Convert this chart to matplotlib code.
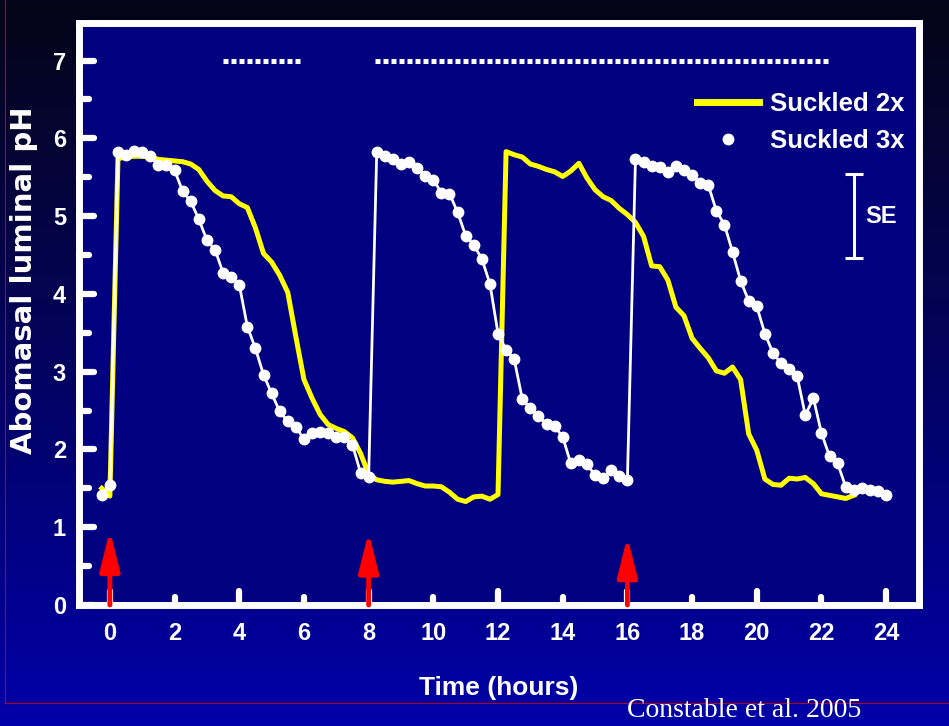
import matplotlib
matplotlib.use("Agg")
import matplotlib.pyplot as plt
from matplotlib.lines import Line2D
from matplotlib.markers import MarkerStyle
import numpy as np

plt.rcParams['font.family'] = ['Liberation Sans', 'DejaVu Sans']
plt.rcParams['font.weight'] = 'bold'

# abomasal pH, one reading every 15 min, first reading at -0.25 h
ph_2x = [1.50, 1.40,
         5.74, 5.76, 5.77, 5.77, 5.76, 5.73, 5.72, 5.71, 5.70, 5.67, 5.60, 5.45,
         5.33, 5.26, 5.25, 5.16, 5.11, 4.85, 4.52, 4.41, 4.24, 4.02, 3.45, 2.90,
         2.66, 2.45, 2.32, 2.27, 2.23, 2.15, 1.95, 1.68,
         1.61, 1.59, 1.58, 1.59, 1.60, 1.56, 1.53, 1.53, 1.52, 1.45, 1.36, 1.33,
         1.39, 1.40, 1.36, 1.42,
         5.83, 5.79, 5.76, 5.67, 5.64, 5.60, 5.57, 5.51, 5.58, 5.68, 5.49, 5.34,
         5.25, 5.20, 5.10, 5.02, 4.92, 4.74, 4.36, 4.35,
         4.18, 3.83, 3.72, 3.43, 3.30, 3.18, 3.01, 2.98, 3.06, 2.90, 2.20, 1.99,
         1.62, 1.55, 1.54, 1.63, 1.62, 1.64, 1.56, 1.43, 1.41, 1.39, 1.37, 1.41]

ph_3x = [1.42, 1.54,
         5.82, 5.79, 5.84, 5.82, 5.77, 5.66, 5.66, 5.59, 5.32, 5.19, 4.96, 4.69,
         4.57, 4.27, 4.22, 4.12, 3.58, 3.30, 2.96, 2.72, 2.49, 2.36, 2.29, 2.13,
         2.21, 2.23, 2.21, 2.16, 2.16, 2.06, 1.70, 1.64,
         5.82, 5.77, 5.73, 5.67, 5.70, 5.62, 5.52, 5.47, 5.30, 5.29, 5.05, 4.75,
         4.63, 4.45, 4.13, 3.49, 3.28, 3.16, 2.65, 2.53, 2.43, 2.33, 2.30, 2.16,
         1.82, 1.87, 1.81, 1.67, 1.63, 1.74, 1.66, 1.61,
         5.74, 5.70, 5.64, 5.63, 5.57, 5.65, 5.59, 5.53, 5.43, 5.40, 5.07, 4.89,
         4.54, 4.17, 3.91, 3.84, 3.49, 3.24, 3.11, 3.03, 2.94, 2.44, 2.66, 2.21,
         1.91, 1.82, 1.52, 1.48, 1.50, 1.48, 1.46, 1.41]

t_first, t_step = -0.25, 0.25
hours_2x = t_first + t_step * np.arange(len(ph_2x))
hours_3x = t_first + t_step * np.arange(len(ph_3x))

feed_hours = [0, 8, 16]
arrow_tops = [0.96, 0.94, 0.88]
sig_periods = [(3.49, 5.88), (8.2, 22.24)]
sig_level = 7
se_x, se_mid, se_half = 23.0, 5.0, 0.54

x_ticks = list(range(0, 25, 2))
y_ticks = list(range(0, 8))

fig = plt.figure(figsize=(9.49, 7.26), dpi=100)

# slide background: dark navy at the top fading to blue
bg = fig.add_axes([0, 0, 1, 1], zorder=-10)
top_c = np.array([0.02, 0.02, 0.09])
bot_c = np.array([0.0, 0.0, 0.66])
frac = np.linspace(0, 1, 256)[:, None, None]
bg.imshow(top_c + (bot_c - top_c) * frac, aspect='auto', extent=[0, 1, 0, 1])
bg.axis('off')

red = '#b00020'
fig.add_artist(Line2D([4.5 / 949] * 2, [1, 1 - 703 / 726], transform=fig.transFigure,
                      color=red, lw=0.8))
fig.add_artist(Line2D([4.5 / 949, 1], [1 - 703 / 726] * 2, transform=fig.transFigure,
                      color=red, lw=0.8))

ax = fig.add_axes([78.5 / 949, 1 - 605 / 726, 840 / 949, 582.5 / 726])
ax.set_facecolor('#000080')
ax.set_xlim(-0.97, 25.0)
ax.set_ylim(0, 7.49)
for s in ax.spines.values():
    s.set_color('white')
    s.set_linewidth(5)
    s.set_capstyle('projecting')

ax.plot(hours_2x, ph_2x, color='#ffff00', lw=3.6, solid_joinstyle='round', zorder=3)
ax.plot(hours_3x, ph_3x, color='white', lw=2, marker='o', ms=7.5, zorder=4)

for a, b in sig_periods:
    ax.plot([a, b], [sig_level, sig_level], color='white', lw=3.6,
            ls=(0, (1, 0.6)), dash_capstyle='butt')

for x, top in zip(feed_hours, arrow_tops):
    ax.annotate('', xy=(x, top), xytext=(x, 0), annotation_clip=False,
                arrowprops=dict(arrowstyle='-|>,head_length=1.2,head_width=0.3',
                                color='red', lw=3.5, shrinkA=0, shrinkB=0,
                                mutation_scale=20), zorder=6)

ax.errorbar([se_x], [se_mid], yerr=[se_half], color='white', lw=2.2,
            capsize=6.5, capthick=2.2)
ax.text(se_x + 0.36, se_mid, 'SE', color='white', size=17, va='center', ha='left')

major_x = [h for h in x_ticks if h % 4 == 0]
minor_x = [h for h in x_ticks if h % 4 == 2]
ax.set_xticks(major_x, [str(h) for h in major_x])
ax.set_xticks(minor_x, [str(h) for h in minor_x], minor=True)
ax.set_yticks(y_ticks, [str(v) for v in y_ticks])
ax.set_yticks([v + 0.5 for v in y_ticks[:-1]], minor=True)

ax.tick_params(which='both', direction='in', color='white', labelcolor='white',
               labelsize=17, width=4.5)
ax.tick_params(axis='y', which='major', length=11, pad=9)
ax.tick_params(axis='y', which='minor', length=7)
ax.tick_params(axis='x', which='major', length=10, pad=12)
ax.tick_params(axis='x', which='minor', length=6, pad=12)

# rounded tick ends, like the original slide
for axis in (ax.xaxis, ax.yaxis):
    for t in axis.get_major_ticks() + axis.get_minor_ticks():
        ln = t.tick1line
        ln.set_marker(MarkerStyle(ln.get_marker(), capstyle='round'))

h1 = Line2D([], [], color='#ffff00', lw=5)
h2 = Line2D([], [], color='white', ls='none', marker='o', ms=7.5)
ax.legend([h1, h2], ['Suckled 2x', 'Suckled 3x'], loc='upper right',
          bbox_to_anchor=(0.984, 0.881), frameon=False,
          prop=dict(weight='bold', size=18.5), labelcolor='white',
          handlelength=2.4, handletextpad=0.45, labelspacing=0.5,
          borderpad=0, borderaxespad=0)

fig.text(0.0253, 0.614, 'Abomasal luminal pH', rotation=90, ha='center', va='center',
         color='white', family='DejaVu Sans', weight='bold', size=21)
fig.text(499 / 949, 1 - 695 / 726, 'Time (hours)', ha='center', va='baseline',
         color='white', size=19)
fig.text(627 / 949, 1 - 716.7 / 726, 'Constable et al. 2005', ha='left', va='baseline',
         color='white', family='Liberation Serif', weight='normal', size=20)

fig.savefig('out.png', dpi=100)
